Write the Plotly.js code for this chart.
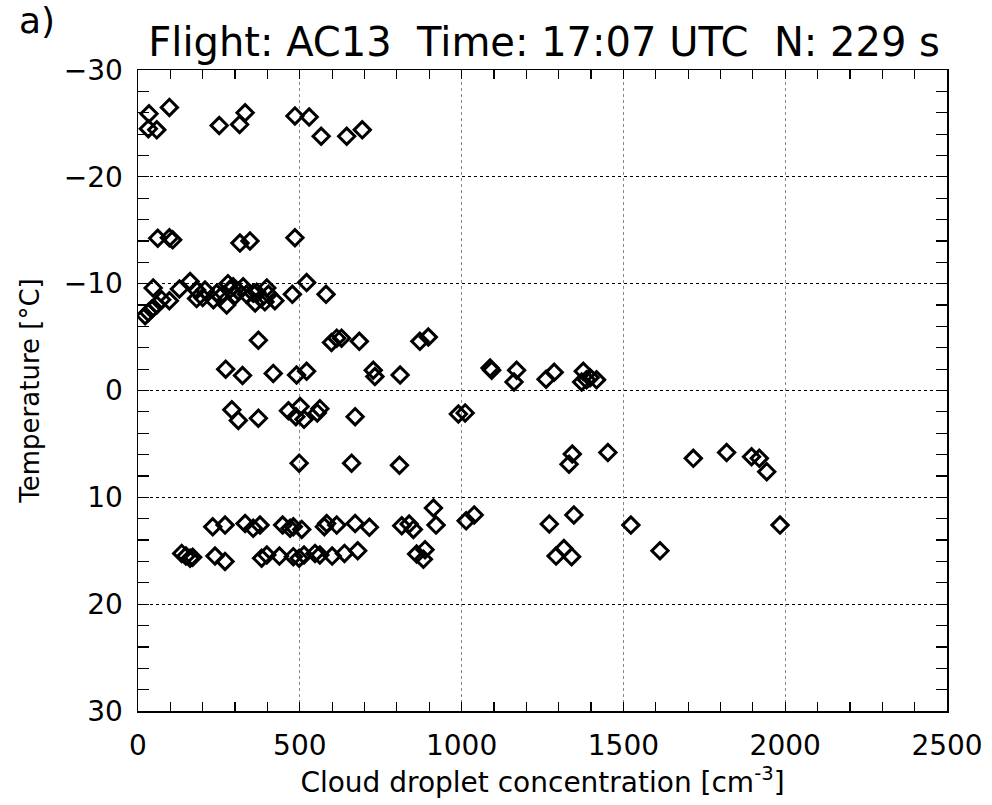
<!DOCTYPE html>
<html>
<head>
<meta charset="utf-8">
<script src="https://cdn.plot.ly/plotly-3.0.1.min.js"></script>
<style>html,body{margin:0;padding:0;background:#fff;}</style>
</head>
<body>
<div id="chart" style="width:992px;height:805px;"></div>
<script>
// Cloud droplet concentration [cm^-3]
const conc = [
  34,32,58,97,251,314,331,485,529,566,645,693,
  61,97,107,315,346,485,
  22,32,42,47,58,73,97,128,161,181,181,200,207,233,243,255,274,278,285,294,300,310,325,335,356,362,367,380,392,398,403,423,477,521,581,
  372,598,614,629,684,871,897,
  271,323,418,490,521,727,732,810,1088,1093,1170,1162,1261,1286,1376,1371,1386,1397,1417,
  290,310,372,465,488,501,513,554,562,671,990,1011,
  498,660,808,1342,1332,1452,1716,1819,1896,1920,1943,
  231,269,331,356,377,447,470,480,506,576,583,614,671,715,815,838,851,913,921,1014,1039,1271,1347,1523,1984,
  135,148,161,169,238,269,382,398,437,480,498,513,547,562,600,638,679,861,887,882,1292,1316,1340,1613
];
// Temperature [°C]
const temp = [
  -25.9,-24.5,-24.4,-26.5,-24.8,-24.9,-26.0,-25.7,-25.6,-23.8,-23.8,-24.4,
  -14.25,-14.3,-14.1,-13.8,-14.0,-14.3,
  -7.0,-7.3,-7.6,-9.6,-8.0,-8.5,-8.4,-9.5,-10.2,-9.4,-8.6,-8.7,-9.4,-8.5,-9.1,-8.8,-8.0,-10.0,-9.5,-9.7,-8.9,-9.3,-9.7,-9.0,-9.1,-8.2,-9.2,-8.6,-8.3,-9.6,-9.0,-8.4,-9.0,-10.1,-9.0,
  -4.7,-4.5,-4.9,-4.9,-4.6,-4.6,-5.0,
  -2.0,-1.4,-1.6,-1.45,-1.8,-1.9,-1.3,-1.45,-2.1,-1.9,-1.9,-0.8,-1.05,-1.7,-1.8,-0.8,-1.0,-1.2,-1.0,
  1.8,2.8,2.6,1.9,2.45,1.5,2.7,2.1,1.7,2.45,2.2,2.1,
  6.8,6.8,7.0,5.95,6.9,5.8,6.35,5.8,6.2,6.35,7.6,
  12.75,12.6,12.45,12.9,12.6,12.6,12.9,12.75,13.0,12.75,12.45,12.6,12.45,12.8,12.66,12.5,13.0,11.0,12.6,12.2,11.65,12.5,11.65,12.6,12.6,
  15.25,15.5,15.7,15.6,15.5,16.0,15.7,15.4,15.5,15.55,15.7,15.4,15.25,15.4,15.5,15.25,15.0,15.3,14.9,15.8,15.5,14.8,15.55,15.0
];
const titleText = 'Flight: AC13 \u00a0Time: 17:07 UTC \u00a0N: 229 s';
const panelLabel = 'a)';
const xTitle = 'Cloud droplet concentration [cm<sup>-3</sup>]';
const yTitle = 'Temperature [°C]';

const FONT = 'DejaVu Sans, sans-serif';

const trace = {
  x: conc, y: temp, type: 'scatter', mode: 'markers',
  marker: {symbol: 'diamond-open', size: 12.5, color: '#000', line: {width: 3, color: '#000'}},
  hoverinfo: 'x+y'
};

const layout = {
  width: 992, height: 805,
  margin: {l: 138, r: 45, t: 70, b: 94, pad: 0},
  paper_bgcolor: '#fff', plot_bgcolor: '#fff',
  showlegend: false,
  font: {family: FONT, color: '#000', size: 26},
  title: {text: titleText, font: {family: FONT, size: 40, color: '#000'},
          xref: 'paper', x: 0.502, xanchor: 'center', yref: 'container', y: 0.948, yanchor: 'middle'},
  xaxis: {
    range: [0, 2500], tickmode: 'linear', tick0: 0, dtick: 500,
    ticks: 'inside', ticklen: 9, tickwidth: 1.2, tickcolor: '#000',
    minor: {dtick: 100, ticks: 'inside', ticklen: 9, tickwidth: 1.2, tickcolor: '#000', showgrid: false},
    showline: true, linecolor: '#000', linewidth: 1.5, mirror: 'ticks',
    showgrid: true, gridcolor: '#888', griddash: 'dot', gridwidth: 1,
    zeroline: false,
    tickfont: {family: FONT, size: 28, color: '#000'},
    ticklabelstandoff: 9,
    title: {text: xTitle, font: {family: FONT, size: 28, color: '#000'}, standoff: 0},
    automargin: false
  },
  yaxis: {
    range: [30, -30], tickmode: 'linear', tick0: -30, dtick: 10,
    ticks: 'inside', ticklen: 11, tickwidth: 1.2, tickcolor: '#000',
    minor: {dtick: 2, ticks: 'inside', ticklen: 11, tickwidth: 1.2, tickcolor: '#000', showgrid: false},
    showline: true, linecolor: '#000', linewidth: 1.5, mirror: 'ticks',
    showgrid: true, gridcolor: '#000', griddash: 'dot', gridwidth: 1,
    zeroline: false,
    tickfont: {family: FONT, size: 28, color: '#000'},
    ticklabelstandoff: 8,
    title: {text: yTitle, font: {family: FONT, size: 26, color: '#000'}, standoff: 16},
    automargin: false
  },
  annotations: [{
    text: panelLabel, xref: 'paper', yref: 'paper', x: -0.15, y: 1.112,
    xanchor: 'left', yanchor: 'top', showarrow: false,
    font: {family: FONT, size: 36, color: '#000'}
  }]
};

Plotly.newPlot('chart', [trace], layout, {displayModeBar: false, staticPlot: true});
</script>
</body>
</html>
